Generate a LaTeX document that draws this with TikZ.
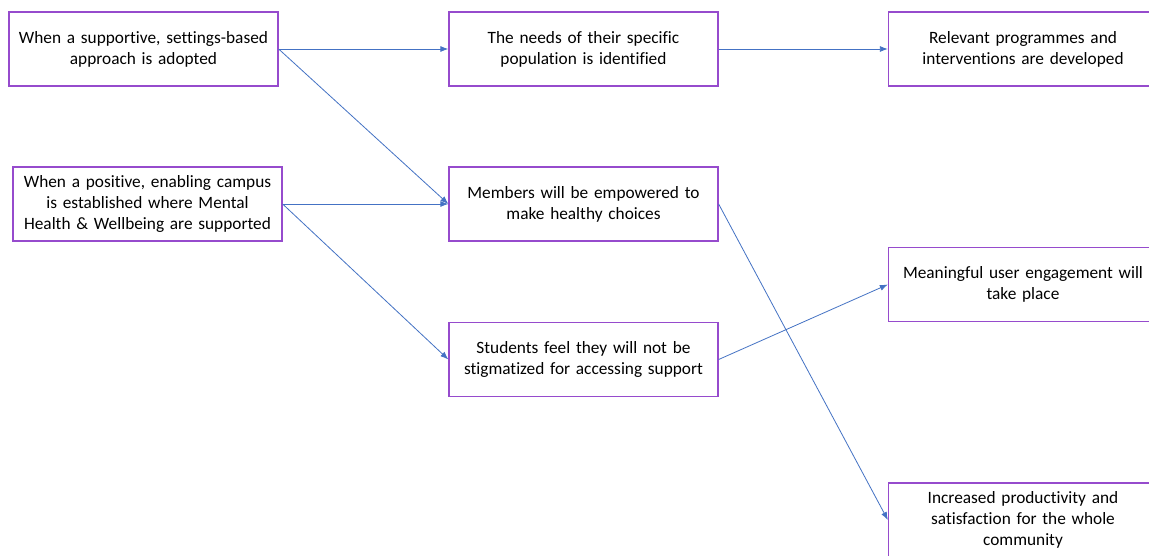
\documentclass[tikz,border=0pt]{standalone}
\usepackage{fontspec}
\setmainfont[Ligatures={NoCommon}]{Carlito}
\usetikzlibrary{arrows.meta}
\definecolor{boxpurple}{RGB}{150,75,205}
\definecolor{arrowblue}{RGB}{68,114,196}
\begin{document}
\begin{tikzpicture}[x=1pt,y=-1pt,
  box/.style={draw=boxpurple,line width=1.3pt,minimum width=269pt,minimum height=74pt,
    text width=262pt,align=center,inner sep=0pt,font=\fontsize{17.3}{21}\selectfont},
  arr/.style={draw=arrowblue,line width=0.8pt,-{Latex[length=8pt,width=6pt]}}]
\path[use as bounding box] (0,0) rectangle (1149,555);
\clip (0,0) rectangle (1149,555);
\fill[white] (0,0) rectangle (1149,555);
\node[box] (a) at (143.5,49) {When a supportive, settings-based\\approach is adopted};
\node[box] (b) at (147.5,204) {When a positive, enabling campus\\is established where Mental\\Health \& Wellbeing are supported};
\node[box] (c) at (583.5,49) {The needs of their specific\\population is identified};
\node[box] (d) at (583.5,204) {Members will be empowered to\\make healthy choices};
\node[box] (e) at (583.5,359.5) {Students feel they will not be\\stigmatized for accessing support};
\node[box] (f) at (1023,49) {Relevant programmes and\\interventions are developed};
\node[box] (g) at (1023,284.5) {Meaningful user engagement will\\take place};
\node[box] (h) at (1023,520) {Increased productivity and\\satisfaction for the whole\\community};
\draw[arr] (a.east) -- (c.west);
\draw[arr] (a.east) -- (d.west);
\draw[arr] (b.east) -- (d.west);
\draw[arr] (b.east) -- (e.west);
\draw[arr] (c.east) -- (f.west);
\draw[arr] (d.east) -- (h.west);
\draw[arr] (e.east) -- (g.west);
\end{tikzpicture}
\end{document}
